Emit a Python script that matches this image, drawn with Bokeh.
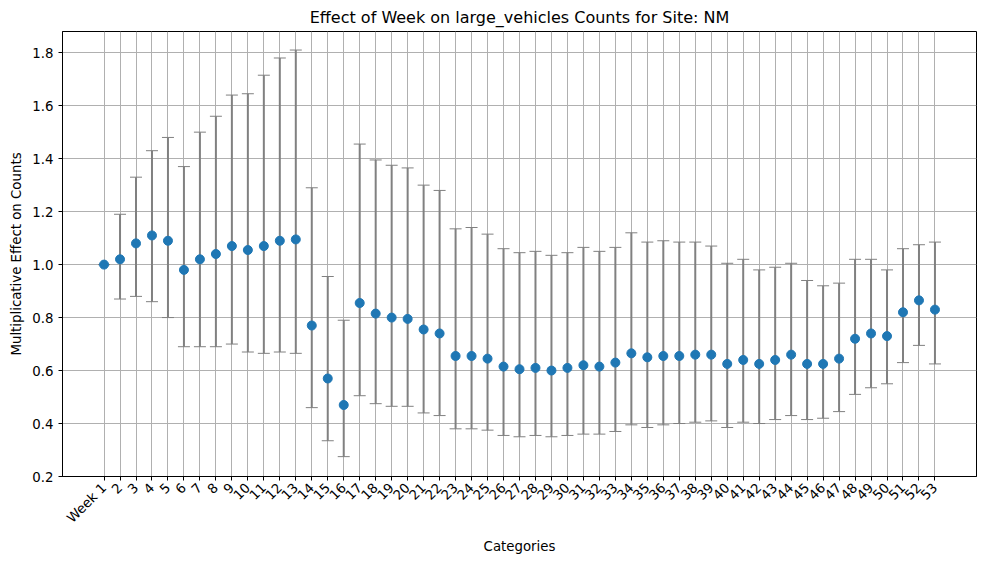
from bokeh.plotting import figure
from bokeh.models import ColumnDataSource, Whisker, FixedTicker, Range1d, TeeHead
from bokeh.embed import file_html
from bokeh.resources import INLINE
import math

labels = ["Week 1"] + [str(i) for i in range(2, 54)]
effect = [1.0, 1.02, 1.08, 1.11, 1.09, 0.98, 1.02, 1.04, 1.07, 1.055, 1.07, 1.09, 1.095,
          0.77, 0.57, 0.47, 0.855, 0.815, 0.80, 0.795, 0.755, 0.74, 0.655, 0.655, 0.645,
          0.615, 0.605, 0.61, 0.60, 0.61, 0.62, 0.615, 0.63, 0.665, 0.65, 0.655, 0.655,
          0.66, 0.66, 0.625, 0.64, 0.625, 0.64, 0.66, 0.625, 0.625, 0.645, 0.72, 0.74,
          0.73, 0.82, 0.865, 0.83]
lower = [1.0, 0.87, 0.88, 0.86, 0.80, 0.69, 0.69, 0.69, 0.70, 0.67, 0.665, 0.67, 0.665,
         0.46, 0.335, 0.275, 0.505, 0.475, 0.465, 0.465, 0.44, 0.43, 0.38, 0.38, 0.375,
         0.355, 0.35, 0.355, 0.35, 0.355, 0.36, 0.36, 0.37, 0.395, 0.385, 0.395, 0.40,
         0.405, 0.41, 0.385, 0.405, 0.40, 0.415, 0.43, 0.415, 0.42, 0.445, 0.51, 0.535,
         0.55, 0.63, 0.695, 0.625]
upper = [1.0, 1.19, 1.33, 1.43, 1.48, 1.37, 1.50, 1.56, 1.64, 1.645, 1.715, 1.78, 1.81,
         1.29, 0.955, 0.79, 1.455, 1.395, 1.375, 1.365, 1.30, 1.28, 1.135, 1.14, 1.115,
         1.06, 1.045, 1.05, 1.035, 1.045, 1.065, 1.05, 1.065, 1.12, 1.085, 1.09, 1.085,
         1.085, 1.07, 1.005, 1.02, 0.98, 0.99, 1.005, 0.94, 0.92, 0.93, 1.02, 1.02,
         0.98, 1.06, 1.075, 1.085]
yticks = [0.2, 0.4, 0.6, 0.8, 1.0, 1.2, 1.4, 1.6, 1.8]

xs = list(range(len(labels)))
src = ColumnDataSource(dict(x=xs, y=effect, lo=lower, hi=upper))

p = figure(width=985, height=561, output_backend="svg", toolbar_location=None,
           x_range=Range1d(-2.6, 54.6), y_range=Range1d(0.2, 1.88),
           title="Effect of Week on large_vehicles Counts for Site: NM",
           min_border_left=62, min_border_right=9, min_border_top=30, min_border_bottom=85)
p.title.align = "center"
p.title.text_font_style = "normal"
p.title.text_font_size = "12pt"
p.title.text_font = "DejaVu Sans"
p.title.text_color = "black"

w = Whisker(source=src, base="x", lower="lo", upper="hi", dimension="height",
            line_color="gray", line_width=2,
            upper_head=TeeHead(size=12, line_color="gray", line_width=1),
            lower_head=TeeHead(size=12, line_color="gray", line_width=1))
p.add_layout(w)
p.scatter("x", "y", source=src, size=9, color="#1f77b4")

p.xaxis.ticker = FixedTicker(ticks=xs)
p.xaxis.major_label_overrides = {i: l for i, l in enumerate(labels)}
p.xaxis.major_label_orientation = math.pi / 4
p.yaxis.ticker = FixedTicker(ticks=yticks)
p.yaxis.major_label_overrides = {t: f"{t:.1f}" for t in yticks}
p.xaxis.axis_label = "Categories"
p.yaxis.axis_label = "Multiplicative Effect on Counts"
for ax in (p.xaxis, p.yaxis):
    ax.axis_label_text_font_style = "normal"
    ax.axis_label_text_font_size = "10pt"
    ax.axis_label_text_font = "DejaVu Sans"
    ax.axis_label_text_color = "black"
    ax.major_label_text_font_size = "10pt"
    ax.major_label_text_font = "DejaVu Sans"
    ax.major_label_text_color = "black"
    ax.minor_tick_line_color = None
    ax.major_tick_out = 4
    ax.major_tick_in = 0
    ax.axis_line_color = "black"
p.grid.grid_line_color = "#b0b0b0"
p.grid.grid_line_alpha = 1.0
p.outline_line_color = "black"
p.outline_line_alpha = 1.0

open("out.html", "w").write(file_html(p, INLINE))
